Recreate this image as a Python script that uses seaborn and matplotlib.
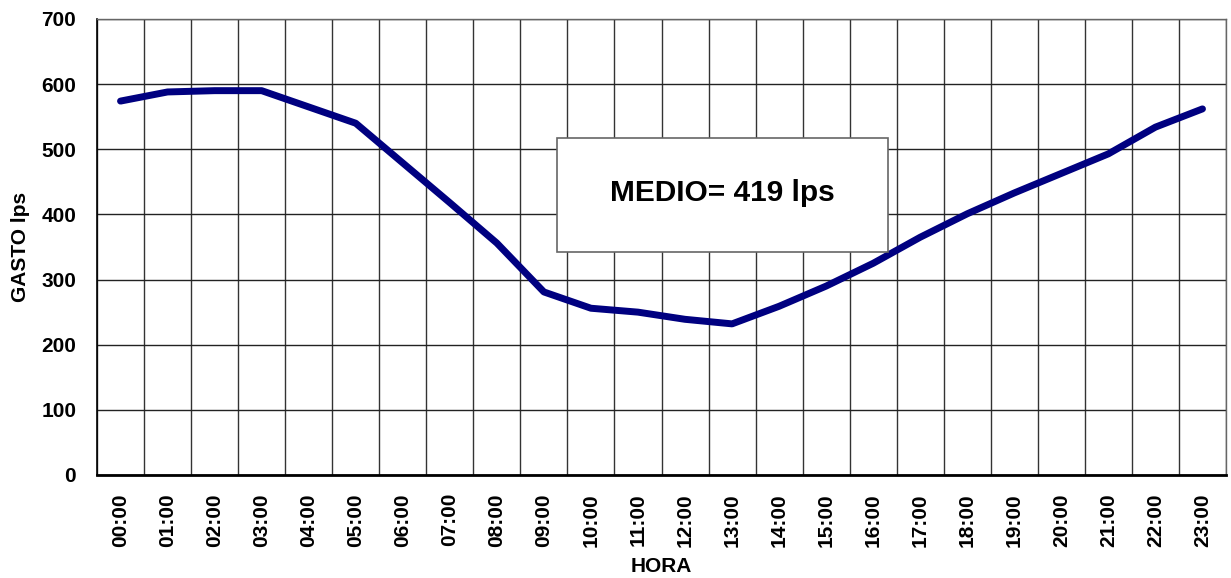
import numpy as np
import pandas as pd
import matplotlib
matplotlib.use("Agg")
import matplotlib.pyplot as plt
from matplotlib.patches import Rectangle
import seaborn as sns

horas = ["%02d:00" % h for h in range(24)]
gasto = [574, 588, 590, 590, 565, 540, 479, 418, 356, 281, 256, 250,
         239, 232, 259, 290, 325, 365, 401, 433, 463, 493, 534, 562]
medio_txt = "MEDIO= 419 lps"

sns.set_style("white")
plt.rcParams['font.family'] = ['Liberation Sans', 'DejaVu Sans']
plt.rcParams['text.color'] = 'black'
plt.rcParams['xtick.color'] = 'black'
plt.rcParams['ytick.color'] = 'black'
plt.rcParams['axes.labelcolor'] = 'black'

df = pd.DataFrame({"pos": np.arange(len(horas)), "gasto": gasto})

W, H = 1231, 578
fig = plt.figure(figsize=(W / 100, H / 100), dpi=100)
ax = fig.add_axes([97/W, 1-475/H, (1226-97)/W, (475-19)/H])

sns.lineplot(data=df, x="pos", y="gasto", ax=ax, color="#000080",
             linewidth=5, solid_capstyle="round", solid_joinstyle="round")

ax.set_xlim(-0.5, len(horas) - 0.5)
ax.set_ylim(0, 700)
ax.set_yticks(range(0, 701, 100))
ax.set_xticks(np.arange(len(horas)))
ax.set_xticklabels(horas, rotation=90, fontsize=15, fontweight="bold")
ax.set_xticks(np.arange(-0.5, len(horas)), minor=True)
for lbl in ax.get_yticklabels():
    lbl.set_fontsize(15)
    lbl.set_fontweight("bold")

ax.tick_params(axis="x", which="major", length=0, pad=13)
ax.tick_params(axis="x", which="minor", length=6, width=1, color="#333333", direction="out")
ax.tick_params(axis="y", length=7, width=1, color="#333333", direction="out", pad=8)
ax.grid(True, axis="y", which="major", color="#222222", linewidth=1)
ax.grid(True, axis="x", which="minor", color="#333333", linewidth=1)
ax.grid(False, axis="x", which="major")
ax.set_axisbelow(True)

for s in ["top", "right"]:
    ax.spines[s].set_color("#666666")
    ax.spines[s].set_linewidth(1)
ax.spines["left"].set_color("black")
ax.spines["left"].set_linewidth(1.2)
ax.spines["bottom"].set_color("black")
ax.spines["bottom"].set_linewidth(2)

ax.set_xlabel("HORA", fontsize=15, fontweight="bold")
ax.set_ylabel("GASTO lps", fontsize=15, fontweight="bold")
ax.xaxis.label.set_va("center")
ax.yaxis.label.set_va("center")
ax.xaxis.set_label_coords(0.5, (475 - 567) / 456)
ax.yaxis.set_label_coords((21 - 97) / 1129, 0.5)

# text box for the mean value
box = Rectangle((557/W, 1-252/H), (888-557)/W, (252-138)/H,
                transform=fig.transFigure, fc="white", ec="#666666", lw=1.2, zorder=4)
fig.patches.append(box)
fig.text(722/W, 1-193/H, medio_txt, ha="center", va="center",
         fontsize=21.5, fontweight="bold", zorder=5)

fig.savefig("out.png", dpi=100)
